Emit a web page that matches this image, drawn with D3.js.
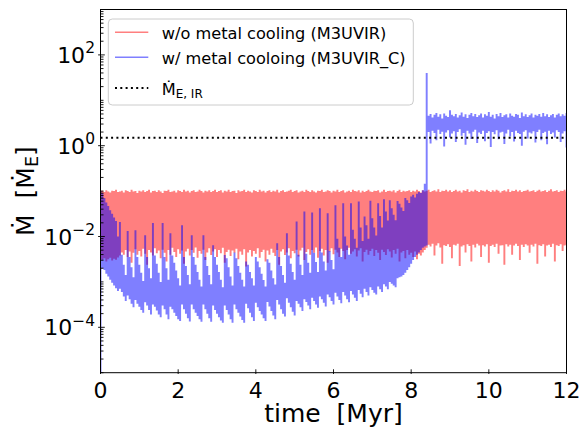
<!DOCTYPE html>
<html>
<head>
<meta charset="utf-8">
<script src="https://cdn.jsdelivr.net/npm/d3@7"></script>
<style>
  body { margin: 0; background: #fff; }
  svg text { font-family: "DejaVu Sans", sans-serif; fill: #000; white-space: pre; }
</style>
</head>
<body>
<svg id="chart" width="582" height="427"></svg>
<script>
// Accretion-rate envelopes: log10 of the min / max of Mdot [Mdot_E]
// inside each time bin of width dt (Myr), bins starting at t = 0.
const dt = 0.05;

const redHi = [
  -1.00,-0.99,-1.02,-0.98,-1.01,-1.03,-0.99,-1.00,-0.97,-1.02,-1.01,-0.99,-1.03,-0.98,-1.00,-1.02,-0.97,-1.01,-1.00,-1.04,
  -0.99,-1.01,-0.98,-1.02,-1.00,-0.97,-1.03,-1.00,-0.99,-1.02,-0.98,-1.01,-1.04,-0.99,-1.00,-0.97,-1.02,-1.01,-0.99,-1.03,
  -0.98,-1.00,-1.02,-0.97,-1.01,-0.99,-1.03,-1.00,-0.98,-1.02,-1.01,-0.97,-1.00,-1.03,-0.99,-1.01,-0.98,-1.02,-1.00,-0.97,
  -1.02,-1.00,-0.98,-1.03,-0.99,-1.01,-0.97,-1.02,-1.00,-0.99,-1.04,-0.98,-1.01,-1.00,-0.97,-1.02,-0.99,-1.01,-1.03,-0.98,
  -1.00,-1.02,-0.97,-1.01,-0.99,-1.03,-1.00,-0.98,-1.02,-0.99,-1.01,-0.97,-1.03,-1.00,-0.98,-1.02,-1.01,-0.99,-0.97,-1.02,
  -1.00,-0.98,-1.03,-1.01,-0.99,-1.02,-0.97,-1.00,-1.02,-0.98,-1.01,-1.03,-0.99,-1.00,-0.97,-1.02,-1.01,-0.98,-1.00,-1.03,
  -0.99,-1.01,-0.97,-1.02,-1.00,-0.98,-1.03,-1.01,-0.99,-1.02,-0.97,-1.00,-1.01,-0.98,-1.03,-0.99,-1.02,-1.00,-0.97,-1.01,
  -1.02,-0.99,-1.00,-0.98,-1.03,-1.01,-0.97,-1.02,-1.00,-0.99,-1.01,-0.98,-1.03,-1.00,-0.97,-1.02,-0.99,-1.01,-1.00,-0.98,
  -1.02,-0.99,-1.01,-0.97,-1.00,-1.03,-0.98,-1.01,-0.99,-0.97,-1.02,-1.00,-0.98,-1.01,-0.96,-1.02,-0.99,-1.00,-0.97,-1.01,
  -0.98,-1.02,-1.00,-0.97,-1.01,-0.99,-1.03,-0.98,-1.00,-0.96,-1.02,-0.99,-1.01,-0.97,-1.00,-1.02,-0.98,-0.99,-1.01,-0.97,
  -1.00,-1.02,-0.98,-1.01,-0.97,-0.99,-1.03,-1.00,-0.98,-1.01,-0.96,-1.02,-0.99,-1.00,-0.97,-1.01,-0.98,-1.02,-1.00,-0.99,
  -0.97,-1.01,-1.00,-0.98,-1.02,-0.99,-0.97,-1.01,-1.00,-0.98,-1.02,-0.99,-0.96,-1.01,-1.00,-0.98,-1.02,-0.99,-1.00,-0.97,-1.01
];

const redLo = [
  -2.50,-2.52,-2.48,-2.55,-2.50,-2.47,-2.53,-2.49,-2.51,-2.46,-2.42,-2.35,-2.40,-2.30,-2.45,-2.33,-2.58,-2.36,-2.28,-2.40,
  -2.32,-2.44,-2.27,-2.38,-2.62,-2.30,-2.35,-2.42,-2.26,-2.37,-2.31,-2.48,-2.29,-2.36,-2.55,-2.30,-2.40,-2.25,-2.34,-2.45,
  -2.28,-2.38,-2.31,-2.60,-2.33,-2.27,-2.42,-2.30,-2.36,-2.24,-2.47,-2.32,-2.38,-2.29,-2.52,-2.35,-2.26,-2.41,-2.33,-2.28,
  -2.45,-2.30,-2.37,-2.25,-2.58,-2.34,-2.29,-2.43,-2.31,-2.36,-2.27,-2.50,-2.33,-2.40,-2.28,-2.66,-2.35,-2.30,-2.44,-2.32,
  -2.38,-2.26,-2.47,-2.34,-2.29,-2.55,-2.31,-2.40,-2.27,-2.36,-2.43,-2.30,-2.62,-2.33,-2.28,-2.41,-2.35,-2.26,-2.48,-2.32,
  -2.37,-2.29,-2.44,-2.31,-2.25,-2.52,-2.34,-2.28,-2.40,-2.30,-2.36,-2.24,-2.47,-2.32,-2.27,-2.42,-2.30,-2.58,-2.33,-2.26,
  -2.39,-2.29,-2.35,-2.45,-2.27,-2.32,-2.50,-2.30,-2.25,-2.38,-2.33,-2.28,-2.44,-2.31,-2.26,-2.55,-2.34,-2.29,-2.40,-2.32,
  -2.27,-2.43,-2.30,-2.36,-2.52,-2.29,-2.34,-2.41,-2.28,-2.33,-2.46,-2.30,-2.38,-2.27,-2.55,-2.35,-2.32,-2.48,-2.30,-2.40,
  -2.36,-2.45,-2.33,-2.50,-2.38,-2.42,-2.35,-2.30,-2.25,-2.18,-2.22,-2.16,-2.42,-2.20,-2.15,-2.24,-2.60,-2.19,-2.21,-2.17,
  -2.23,-2.48,-2.18,-2.20,-2.16,-2.65,-2.22,-2.19,-2.35,-2.17,-2.21,-2.55,-2.18,-2.24,-2.16,-2.20,-2.45,-2.19,-2.22,-2.17,
  -2.58,-2.21,-2.18,-2.23,-2.16,-2.38,-2.20,-2.19,-2.62,-2.17,-2.22,-2.18,-2.40,-2.20,-2.16,-2.21,-2.52,-2.18,-2.23,-2.17,
  -2.20,-2.36,-2.18,-2.22,-2.16,-2.60,-2.19,-2.21,-2.17,-2.44,-2.20,-2.18,-2.23,-2.16,-2.55,-2.19,-2.21,-2.17,-2.32,-2.20,-2.18
];

const blueHi = [
  -1.00,-1.05,-1.15,-1.25,-1.33,-1.42,-1.50,-1.58,-1.66,-2.00,-1.68,-2.40,-2.62,-2.85,-1.88,-2.45,-2.68,-2.90,-1.86,-2.45,
  -2.62,-2.80,-2.98,-1.97,-2.45,-2.70,-2.92,-1.70,-2.42,-2.60,-2.80,-3.00,-1.70,-2.45,-2.70,-2.95,-1.93,-2.42,-2.58,-2.75,
  -2.92,-3.08,-1.75,-2.45,-2.65,-2.85,-3.05,-1.97,-2.45,-2.62,-2.78,-2.95,-3.10,-1.97,-2.45,-2.65,-2.85,-3.05,-2.19,-2.45,
  -2.62,-2.78,-2.95,-3.12,-2.41,-2.48,-2.68,-2.88,-3.08,-2.35,-2.48,-2.65,-2.80,-2.95,-3.10,-2.55,-2.62,-2.78,-2.92,-3.08,
  -2.45,-2.55,-2.68,-2.82,-2.96,-3.10,-2.50,-2.58,-2.75,-2.92,-3.06,-2.15,-2.45,-2.65,-2.85,-3.02,-1.93,-2.42,-2.60,-2.78,
  -2.95,-1.67,-2.40,-2.62,-2.85,-1.45,-2.38,-2.58,-2.80,-1.47,-2.36,-2.56,-2.78,-1.38,-2.35,-2.55,-2.75,-1.49,-2.32,-2.52,
  -2.72,-1.31,-2.05,-2.25,-2.45,-1.27,-2.00,-2.20,-2.40,-1.27,-1.85,-2.05,-2.25,-1.23,-1.80,-2.10,-1.56,-1.75,-2.05,-1.21,
  -1.60,-1.80,-1.98,-1.27,-1.55,-1.80,-1.18,-1.45,-1.65,-1.20,-1.38,-1.52,-1.64,-1.22,-1.28,-1.36,-1.44,-1.15,-1.20,-1.26,
  -1.12,-1.08,-1.14,-1.06,-1.02,-1.04,-0.98,-0.84, 1.60,
  0.66,0.70,0.62,0.68,0.72,0.64,0.69,0.60,0.71,0.66,
  0.63,0.78,0.68,0.65,0.70,0.62,0.67,0.73,0.64,0.69,
  0.61,0.68,0.72,0.65,0.70,0.63,0.67,0.71,0.62,0.69,
  0.66,0.74,0.64,0.68,0.60,0.70,0.65,0.72,0.63,0.67,
  0.69,0.62,0.71,0.66,0.64,0.70,0.68,0.61,0.73,0.65,
  0.69,0.63,0.67,0.71,0.62,0.68,0.66,0.70,0.64,0.72,
  0.65,0.69,0.63,0.67,0.70,0.62,0.68,0.71,0.65,0.69,
  0.66,0.72
];

const blueLo = [
  -5.30,-2.70,-2.74,-2.82,-2.88,-2.95,-3.02,-3.08,-3.14,-3.20,-3.15,-3.22,-3.32,-3.42,-3.30,-3.38,-3.48,-3.56,-3.40,-3.48,
  -3.55,-3.62,-3.68,-3.45,-3.52,-3.62,-3.72,-3.50,-3.55,-3.63,-3.72,-3.78,-3.52,-3.60,-3.72,-3.82,-3.55,-3.60,-3.68,-3.75,
  -3.82,-3.86,-3.50,-3.60,-3.70,-3.80,-3.87,-3.50,-3.60,-3.68,-3.75,-3.82,-3.88,-3.50,-3.60,-3.70,-3.80,-3.88,-3.52,-3.62,
  -3.70,-3.78,-3.85,-3.90,-3.52,-3.62,-3.72,-3.82,-3.90,-3.50,-3.60,-3.68,-3.76,-3.84,-3.90,-3.48,-3.58,-3.68,-3.78,-3.86,
  -3.46,-3.56,-3.64,-3.72,-3.80,-3.86,-3.44,-3.54,-3.64,-3.74,-3.82,-3.40,-3.50,-3.60,-3.70,-3.76,-3.36,-3.46,-3.56,-3.66,
  -3.74,-3.42,-3.48,-3.56,-3.64,-3.38,-3.44,-3.52,-3.60,-3.35,-3.42,-3.50,-3.57,-3.32,-3.38,-3.46,-3.54,-3.28,-3.34,-3.42,
  -3.50,-3.24,-3.32,-3.40,-3.47,-3.22,-3.30,-3.38,-3.45,-3.20,-3.28,-3.35,-3.42,-3.18,-3.26,-3.34,-3.15,-3.22,-3.30,-3.12,
  -3.18,-3.24,-3.28,-3.10,-3.16,-3.22,-3.05,-3.10,-3.16,-3.00,-3.04,-3.08,-3.12,-2.92,-2.90,-2.88,-2.85,-2.80,-2.74,-2.68,
  -2.60,-2.52,-2.45,-2.40,-2.35,-2.30,-2.25,-2.22,-2.20,
  0.30,0.05,0.33,0.28,0.12,0.35,0.26,0.31,-0.02,0.29,
  0.34,0.18,0.27,0.32,0.08,0.30,0.36,0.22,0.28,0.02,
  0.33,0.27,0.15,0.31,0.35,0.06,0.29,0.26,0.33,0.10,
  0.28,0.32,-0.03,0.30,0.25,0.34,0.14,0.29,0.31,0.04,
  0.27,0.35,0.20,0.30,0.09,0.33,0.28,0.26,0.00,0.31,
  0.34,0.16,0.29,0.27,0.32,0.07,0.30,0.35,0.12,0.28,
  0.31,0.03,0.33,0.26,0.29,0.18,0.34,0.30,0.08,0.27,
  0.32,-0.04
];

// Eddington accretion rate for the IR-limited case, in Mdot_E
const mdotEddIR = 1.5;

const xTickValues = [0, 2, 4, 6, 8, 10, 12];
const yLabelExponents = [-4, -2, 0, 2];
const seriesNames = ["w/o metal cooling (M3UVIR)", "w/ metal cooloing (M3UVIR_C)"];
const seriesColors = ["#ff0000", "#0000ff"];

// ---- layout ----
const frame = { left: 100.5, right: 566.5, top: 9.5, bottom: 372.7 };
const svg = d3.select("#chart");

const x = d3.scaleLinear().domain([0, 12]).range([frame.left, frame.right]);
const y = d3.scaleLog().domain([1e-5, 1e3]).range([frame.bottom, frame.top]);

svg.append("defs").append("clipPath").attr("id", "plotClip")
  .append("rect")
  .attr("x", frame.left).attr("y", frame.top)
  .attr("width", frame.right - frame.left).attr("height", frame.bottom - frame.top);

function toRows(lo, hi) {
  return lo.map((v, i) => ({ t: i * dt, lo: Math.pow(10, v), hi: Math.pow(10, hi[i]) }));
}

const band = d3.area()
  .x(d => x(d.t))
  .y0(d => y(d.lo))
  .y1(d => y(d.hi))
  .curve(d3.curveStep);

const plot = svg.append("g").attr("clip-path", "url(#plotClip)");

plot.append("path")
  .datum(toRows(redLo, redHi))
  .attr("d", band)
  .attr("fill", seriesColors[0])
  .attr("fill-opacity", 0.5);

plot.append("path")
  .datum(toRows(blueLo, blueHi))
  .attr("d", band)
  .attr("fill", seriesColors[1])
  .attr("fill-opacity", 0.5);

plot.append("line")
  .attr("x1", frame.left).attr("x2", frame.right)
  .attr("y1", y(mdotEddIR)).attr("y2", y(mdotEddIR))
  .attr("stroke", "#000").attr("stroke-width", 2)
  .attr("stroke-dasharray", "2,3.3");

// ---- axes ----
const axes = svg.append("g").attr("stroke", "#000").attr("stroke-width", 0.9);

// y minor ticks: every k*10^e
const minorVals = [];
for (let e = -5; e < 3; e++) {
  for (let k = 1; k < 10; k++) {
    if (k === 1 && yLabelExponents.includes(e)) continue;
    minorVals.push(k * Math.pow(10, e));
  }
}
minorVals.push(1e3);

axes.selectAll(".ymin").data(minorVals).join("line")
  .attr("x1", frame.left).attr("x2", frame.left + 3)
  .attr("y1", d => y(d)).attr("y2", d => y(d));

axes.selectAll(".ymaj").data(yLabelExponents).join("line")
  .attr("x1", frame.left - 2.4).attr("x2", frame.left + 4.3)
  .attr("y1", d => y(Math.pow(10, d))).attr("y2", d => y(Math.pow(10, d)));

axes.selectAll(".xmaj").data(xTickValues).join("line")
  .attr("x1", d => x(d)).attr("x2", d => x(d))
  .attr("y1", frame.bottom - 3.4).attr("y2", frame.bottom + 1.3);

svg.append("rect")
  .attr("x", frame.left).attr("y", frame.top)
  .attr("width", frame.right - frame.left).attr("height", frame.bottom - frame.top)
  .attr("fill", "none").attr("stroke", "#000").attr("stroke-width", 1);

// tick labels
svg.selectAll(".xlab").data(xTickValues).join("text")
  .attr("x", d => x(d)).attr("y", 397.5)
  .attr("text-anchor", "middle").attr("font-size", 22)
  .text(d => d);

const yl = svg.selectAll(".ylab").data(yLabelExponents).join("text")
  .attr("x", 95).attr("y", d => y(Math.pow(10, d)) + 8)
  .attr("text-anchor", "end").attr("font-size", 22);
yl.append("tspan").text("10");
yl.append("tspan").attr("dy", -9.5).attr("font-size", 15.5)
  .text(d => (d < 0 ? "\u2212" : "") + Math.abs(d));

// axis titles
svg.append("text")
  .attr("x", (frame.left + frame.right) / 2).attr("y", 421.5)
  .attr("text-anchor", "middle").attr("font-size", 25)
  .text("time  [Myr]");

const ytitle = svg.append("text")
  .attr("transform", `translate(33.5,${(frame.top + frame.bottom) / 2}) rotate(-90)`)
  .attr("text-anchor", "middle").attr("font-size", 25);
ytitle.append("tspan").text("\u1E40  [\u1E40");
ytitle.append("tspan").attr("font-size", 17.5).attr("dy", 4).text("E");
ytitle.append("tspan").attr("dy", -4).text("]");

// ---- legend ----
const leg = svg.append("g");
leg.append("rect")
  .attr("x", 108.3).attr("y", 19).attr("width", 305).attr("height", 86)
  .attr("rx", 4).attr("fill", "#fff").attr("fill-opacity", 0.8)
  .attr("stroke", "#cccccc").attr("stroke-width", 1);

const rowY = [32.3, 57.3];
seriesNames.forEach((name, i) => {
  leg.append("line")
    .attr("x1", 115).attr("x2", 148.3).attr("y1", rowY[i]).attr("y2", rowY[i])
    .attr("stroke", seriesColors[i]).attr("stroke-opacity", 0.5).attr("stroke-width", 1.5);
  leg.append("text")
    .attr("x", 161.7).attr("y", rowY[i] + 6.2).attr("font-size", 16.2)
    .text(name);
});

leg.append("line")
  .attr("x1", 115).attr("x2", 148.3).attr("y1", 88).attr("y2", 88)
  .attr("stroke", "#000").attr("stroke-width", 2).attr("stroke-dasharray", "2,3.3");
const eddText = leg.append("text").attr("x", 161.7).attr("y", 95).attr("font-size", 16.2);
eddText.append("tspan").text("\u1E40");
eddText.append("tspan").attr("font-size", 12).attr("dy", 2.5).text("E, IR");
</script>
</body>
</html>
